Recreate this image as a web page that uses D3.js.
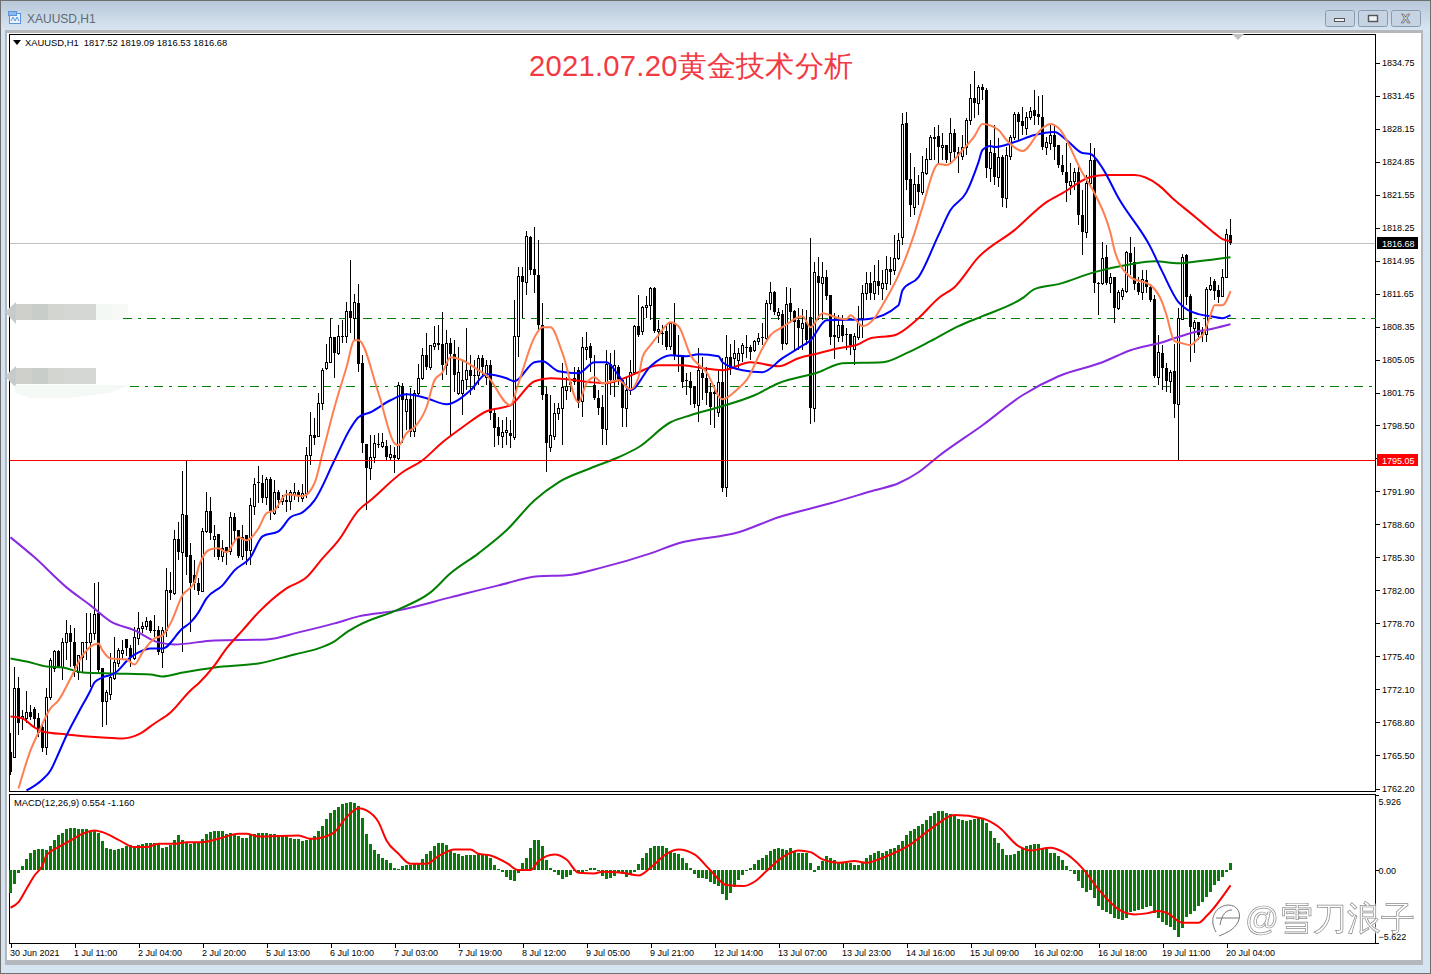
<!DOCTYPE html>
<html>
<head>
<meta charset="utf-8">
<style>
html, body { margin: 0; padding: 0; background: #fff; overflow: hidden; }
svg { display: block; }
text { font-family: "Liberation Sans", sans-serif; white-space: pre; }
</style>
</head>
<body>
<div id="chart"></div>
<script src="https://cdnjs.cloudflare.com/ajax/libs/d3/7.8.5/d3.min.js"></script>
<script>
//candles, one value per hourly bar
var opens = [
1765.8,1765.3,1772.2,1769.2,1769.2,1769.8,1770.1,1769.2,1768.3,1766.3,
1771.3,1774.2,1775.9,1774.3,1776.8,1777.7,1776.8,1773.8,1775.3,1776.8,
1776.8,1777.7,1779.7,1774.2,1770.9,1771.6,1773.2,1774.7,1775.7,1777.1,
1776.2,1775.2,1777.2,1778.2,1778.4,1778.9,1778.0,1778.0,1775.8,1778.0,
1782.0,1781.7,1787.1,1785.8,1789.5,1785.5,1783.5,1782.7,1781.9,1787.9,
1789.9,1787.1,1787.6,1785.4,1786.3,1785.9,1789.3,1788.0,1785.4,1787.5,
1786.0,1790.4,1792.8,1792.7,1791.3,1793.1,1789.7,1791.8,1790.9,1791.0,
1790.9,1791.5,1791.8,1791.2,1791.7,1795.5,1797.5,1797.4,1800.7,1804.2,
1804.8,1807.3,1805.7,1807.4,1807.4,1809.9,1809.2,1810.7,1804.7,1796.6,
1794.2,1795.3,1796.6,1796.4,1796.4,1795.3,1795.5,1795.2,1802.4,1799.9,
1801.1,1797.9,1801.7,1803.2,1805.5,1804.3,1806.4,1806.7,1806.6,1804.5,
1806.7,1805.6,1801.7,1801.7,1803.1,1804.0,1803.5,1803.5,1805.2,1803.3,
1804.5,1799.7,1798.3,1797.4,1797.8,1797.7,1797.3,1807.4,1813.4,1812.8,
1817.3,1814.1,1813.5,1808.5,1801.6,1796.3,1797.4,1799.7,1800.2,1802.0,
1802.8,1803.2,1804.0,1800.9,1806.1,1806.4,1802.5,1801.2,1800.3,1798.1,
1804.6,1803.0,1804.3,1803.0,1800.2,1802.0,1803.8,1808.4,1807.9,1810.3,
1810.5,1812.2,1807.9,1807.7,1807.9,1806.4,1808.7,1805.5,1805.3,1803.0,
1802.9,1802.4,1800.5,1803.7,1803.2,1801.8,1801.8,1799.8,1802.8,1792.3,
1805.3,1805.2,1805.0,1805.7,1806.3,1806.3,1806.0,1806.9,1807.3,1807.2,
1810.7,1811.8,1809.5,1809.6,1806.7,1810.7,1809.9,1809.0,1808.2,1808.8,
1809.3,1800.2,1813.4,1812.7,1813.3,1811.5,1807.5,1807.3,1808.5,1807.6,
1807.6,1806.1,1807.3,1809.2,1811.7,1812.7,1811.7,1812.9,1812.2,1812.7,
1814.1,1814.0,1815.2,1817.3,1828.7,1823.1,1820.3,1822.6,1821.8,1823.7,
1825.1,1827.3,1827.4,1826.3,1826.5,1825.8,1827.7,1825.8,1825.4,1826.3,
1829.0,1831.2,1830.7,1832.3,1832.0,1824.2,1825.7,1823.3,1825.3,1821.2,
1825.4,1827.3,1829.6,1828.9,1828.2,1829.3,1830.0,1829.6,1829.3,1826.3,
1826.7,1827.5,1826.5,1824.5,1823.8,1822.5,1822.9,1823.8,1819.5,1817.8,
1822.7,1825.0,1812.7,1812.7,1815.3,1812.7,1813.3,1810.2,1811.4,1811.9,
1815.7,1814.8,1812.7,1811.8,1813.0,1812.3,1811.1,1803.3,1805.7,1804.2,
1802.9,1803.9,1800.6,1809.1,1815.5,1811.4,1808.2,1808.8,1807.8,1807.6,
1812.1,1812.9,1812.0,1811.4,1813.3,1817.52];
var highs = [
1767.7,1774.3,1773.3,1770.0,1771.9,1770.5,1770.3,1769.7,1768.7,1772.2,
1775.2,1776.0,1776.0,1777.2,1779.0,1778.5,1778.2,1775.5,1776.8,1779.7,
1779.7,1782.7,1782.8,1774.2,1772.0,1775.7,1777.3,1776.2,1777.0,1777.1,
1776.5,1778.3,1779.8,1778.8,1779.3,1779.0,1779.5,1778.4,1778.3,1784.2,
1783.8,1788.0,1788.8,1793.9,1795.0,1786.7,1785.0,1783.2,1788.2,1791.8,
1791.3,1788.5,1787.6,1787.0,1786.3,1789.8,1789.7,1788.0,1788.5,1787.5,
1791.2,1793.2,1794.4,1793.5,1793.3,1793.3,1793.0,1792.0,1791.5,1792.0,
1792.0,1792.7,1792.0,1792.6,1796.3,1799.8,1799.2,1801.7,1804.2,1806.6,
1809.2,1807.3,1808.5,1809.0,1810.8,1815.0,1811.6,1812.6,1805.5,1796.6,
1797.5,1797.5,1797.7,1797.7,1797.0,1796.5,1796.3,1802.8,1802.7,1801.7,
1802.2,1802.0,1804.6,1806.2,1807.7,1806.5,1808.4,1808.5,1809.8,1808.0,
1807.2,1807.0,1806.3,1805.0,1808.2,1805.5,1805.0,1805.5,1805.5,1805.0,
1805.0,1800.0,1799.3,1799.0,1799.3,1799.0,1811.0,1814.3,1814.3,1817.9,
1817.4,1818.3,1817.0,1810.7,1802.3,1801.5,1800.7,1800.7,1804.7,1803.3,
1803.0,1804.3,1804.3,1807.3,1807.8,1806.7,1805.5,1802.0,1801.5,1806.0,
1805.7,1806.0,1804.5,1803.0,1803.3,1805.0,1808.5,1811.5,1810.4,1811.4,
1812.3,1812.3,1809.0,1808.5,1808.5,1808.8,1810.7,1807.5,1805.5,1803.7,
1803.8,1802.4,1806.2,1805.3,1804.3,1802.7,1802.5,1804.0,1805.2,1807.5,
1806.6,1807.0,1806.2,1806.7,1807.5,1806.5,1807.0,1807.7,1808.7,1811.0,
1812.8,1811.9,1810.2,1810.0,1812.3,1812.2,1810.0,1810.2,1810.1,1810.0,
1817.2,1814.8,1815.3,1814.8,1814.0,1811.5,1809.7,1809.5,1809.5,1808.2,
1807.6,1807.7,1810.4,1812.5,1813.8,1813.8,1814.5,1815.0,1814.0,1815.4,
1815.3,1817.5,1817.7,1829.7,1829.8,1825.7,1824.3,1823.5,1825.4,1826.2,
1827.5,1828.3,1828.5,1827.7,1826.5,1829.2,1828.1,1826.3,1827.5,1829.2,
1832.6,1833.9,1832.5,1832.6,1832.2,1827.0,1828.5,1827.2,1825.5,1826.3,
1827.5,1829.8,1829.8,1830.3,1829.8,1830.3,1832.0,1831.4,1831.5,1827.3,
1828.5,1828.5,1826.5,1825.5,1826.7,1824.7,1824.2,1824.3,1822.0,1823.5,
1826.7,1826.2,1812.8,1816.8,1816.5,1813.7,1813.3,1812.0,1812.2,1815.9,
1817.3,1816.3,1813.3,1814.0,1814.0,1812.5,1811.5,1807.5,1806.5,1804.7,
1804.0,1806.6,1810.2,1815.6,1815.6,1811.6,1809.0,1808.8,1808.3,1812.3,
1813.3,1813.1,1812.5,1814.1,1818.1,1819.09];
var lows = [
1763.5,1765.3,1767.5,1768.0,1768.7,1769.0,1768.3,1767.3,1765.8,1765.5,
1771.0,1773.8,1774.2,1773.0,1775.0,1774.3,1773.3,1773.0,1773.7,1775.0,
1772.3,1777.0,1773.7,1768.3,1768.5,1771.0,1773.0,1774.3,1775.0,1775.4,
1774.3,1775.0,1776.5,1777.7,1778.0,1777.7,1777.3,1775.5,1774.2,1777.3,
1781.0,1781.5,1785.0,1775.8,1783.5,1777.8,1782.0,1781.5,1781.8,1787.7,
1787.0,1785.3,1785.0,1784.8,1784.5,1785.5,1787.0,1785.2,1785.0,1784.5,
1784.5,1789.5,1790.7,1790.7,1790.5,1789.0,1789.5,1790.2,1790.5,1789.8,
1790.0,1791.0,1790.8,1790.8,1791.2,1794.5,1796.5,1797.3,1800.0,1804.0,
1804.7,1803.2,1805.5,1806.7,1806.7,1807.7,1807.0,1803.8,1795.7,1790.0,
1793.0,1794.7,1796.2,1796.2,1795.0,1795.0,1793.7,1795.0,1796.7,1798.0,
1797.3,1797.3,1801.5,1803.0,1804.0,1804.0,1806.0,1806.0,1803.0,1803.5,
1797.3,1801.8,1801.5,1799.5,1802.0,1801.5,1802.0,1802.5,1803.5,1802.5,
1799.0,1796.3,1796.5,1796.2,1796.5,1796.2,1797.0,1805.3,1809.2,1811.5,
1813.5,1811.7,1808.0,1801.0,1793.8,1795.8,1797.0,1799.0,1796.5,1801.0,
1801.8,1802.5,1800.2,1799.3,1805.0,1803.8,1801.0,1799.5,1796.5,1796.5,
1801.5,1801.3,1802.5,1798.3,1798.3,1801.5,1803.5,1807.3,1807.5,1809.2,
1809.0,1807.7,1806.7,1806.5,1806.0,1806.0,1805.0,1803.8,1802.2,1801.5,
1800.5,1800.2,1798.8,1801.0,1800.5,1798.5,1798.2,1799.3,1791.8,1791.3,
1803.5,1804.2,1804.2,1804.8,1805.2,1805.0,1805.8,1806.5,1806.5,1807.0,
1810.0,1809.5,1809.0,1806.0,1806.5,1808.7,1806.0,1806.0,1806.0,1806.5,
1798.6,1798.8,1809.0,1809.0,1811.0,1806.5,1805.1,1806.8,1806.8,1806.0,
1805.5,1804.5,1807.0,1807.2,1811.0,1811.0,1811.0,1811.5,1811.0,1812.0,
1812.5,1813.5,1815.0,1816.5,1822.0,1819.3,1819.5,1820.5,1821.5,1823.5,
1825.0,1825.0,1824.5,1825.0,1824.7,1824.7,1825.0,1823.7,1825.0,1825.5,
1828.5,1829.2,1829.5,1831.0,1823.2,1822.8,1822.5,1822.3,1820.3,1820.2,
1825.0,1827.0,1827.0,1827.5,1827.5,1829.0,1828.5,1828.5,1826.0,1825.5,
1826.0,1825.0,1824.2,1823.5,1820.8,1821.5,1822.0,1818.5,1815.5,1817.2,
1822.5,1811.7,1809.5,1812.5,1812.5,1811.7,1808.7,1810.0,1811.0,1811.7,
1813.5,1812.0,1811.5,1811.0,1811.7,1810.8,1803.2,1802.5,1802.0,1801.8,
1801.7,1799.2,1795.0,1809.0,1810.5,1804.8,1805.7,1807.0,1806.8,1806.8,
1811.9,1811.0,1810.7,1811.3,1813.2,1816.53];
var closes = [
1763.8,1772.2,1768.7,1769.4,1769.8,1769.3,1769.1,1767.7,1766.2,1771.3,
1775.0,1775.9,1774.3,1776.8,1777.7,1776.8,1774.4,1775.5,1776.8,1776.7,
1777.7,1779.6,1774.0,1770.8,1771.8,1773.3,1774.8,1776.0,1776.0,1776.2,
1775.2,1777.3,1778.2,1778.4,1778.9,1777.9,1777.9,1775.8,1778.0,1782.0,
1781.7,1787.1,1785.8,1789.6,1785.3,1782.7,1782.7,1781.9,1787.9,1789.9,
1787.7,1787.4,1785.3,1786.2,1785.8,1789.3,1787.9,1785.4,1787.3,1785.9,
1790.5,1792.6,1792.7,1791.2,1793.1,1789.8,1791.8,1791.0,1791.2,1790.8,
1791.8,1791.8,1791.4,1791.7,1795.5,1797.5,1797.2,1800.7,1804.0,1804.8,
1807.3,1805.7,1807.4,1807.3,1809.9,1809.2,1810.8,1804.6,1796.7,1794.2,
1795.3,1796.7,1796.5,1796.8,1795.3,1795.6,1795.2,1802.5,1801.0,1801.1,
1797.8,1801.7,1803.2,1805.5,1804.3,1806.5,1806.7,1806.5,1804.5,1806.7,
1805.6,1803.5,1803.8,1803.0,1804.0,1803.4,1803.4,1805.2,1804.3,1804.5,
1799.7,1798.2,1797.4,1797.8,1798.0,1797.4,1807.4,1813.4,1812.8,1817.4,
1814.0,1813.5,1808.5,1801.5,1796.7,1797.5,1799.7,1800.2,1802.3,1802.4,
1802.5,1802.8,1800.7,1806.3,1806.3,1805.2,1801.2,1800.2,1798.1,1804.6,
1803.0,1804.5,1803.1,1800.2,1802.0,1803.8,1808.4,1807.5,1810.3,1810.5,
1812.2,1807.9,1808.1,1807.6,1806.3,1808.7,1805.5,1805.3,1802.8,1802.9,
1802.2,1800.6,1804.0,1803.2,1801.7,1800.3,1801.6,1802.8,1792.2,1805.3,
1804.2,1805.7,1805.7,1806.5,1806.2,1805.8,1806.9,1807.2,1807.2,1810.7,
1811.8,1809.8,1809.8,1806.6,1810.6,1809.8,1808.8,1808.2,1808.7,1807.0,
1800.2,1813.8,1812.7,1813.3,1811.4,1807.3,1807.3,1808.5,1807.4,1807.5,
1806.5,1807.4,1808.7,1811.7,1812.7,1811.7,1812.9,1812.4,1812.7,1814.1,
1813.8,1815.2,1817.0,1828.6,1823.0,1820.5,1822.6,1821.8,1823.8,1825.1,
1827.3,1827.1,1826.3,1826.5,1825.0,1827.7,1825.8,1825.5,1826.3,1829.0,
1831.2,1830.7,1832.3,1832.0,1824.2,1825.8,1823.3,1825.3,1821.2,1825.5,
1827.3,1829.6,1828.8,1828.4,1829.3,1829.9,1829.4,1829.3,1826.3,1826.8,
1827.5,1826.3,1824.5,1823.8,1822.7,1822.9,1823.8,1819.5,1817.8,1822.7,
1825.0,1812.7,1812.6,1815.2,1812.7,1813.3,1810.2,1811.8,1812.0,1815.8,
1814.8,1812.6,1811.8,1813.1,1812.3,1811.0,1803.4,1805.8,1804.2,1802.9,
1803.8,1800.6,1809.2,1815.3,1811.3,1808.3,1808.8,1807.5,1807.5,1812.1,
1812.5,1811.9,1811.3,1813.3,1817.6,1816.68];

//moving averages, read at the bars where the line bends
var coralBars = [2,5,7,10,12,15,18,22,23,25,29,31,33,36,38,40,43,46,47,50,52,54,57,59,62,64,66,69,73,76,78,81,84,86,87,92,96,97,99,101,104,106,108,110,113,117,119,125,127,131,133,135,138,142,144,146,148,152,155,157,158,160,162,165,167,170,174,178,182,184,188,190,193,198,200,203,207,209,210,213,216,218,222,226,228,232,234,238,241,243,247,249,253,258,260,262,268,271,275,276,280,285,288,289,291,292,295,297,298,300,301,303,305];
var coralVals = [1762.2,1766.0,1767.8,1770.2,1771.0,1773.2,1775.5,1776.7,1776.0,1775.2,1775.1,1774.6,1775.8,1777.2,1777.5,1778.7,1781.5,1782.8,1784.3,1786.1,1786.2,1785.8,1787.3,1787.0,1788.2,1789.7,1790.0,1791.6,1791.4,1792.7,1795.7,1800.3,1804.3,1807.0,1807.0,1801.7,1796.7,1796.5,1797.7,1798.3,1800.3,1803.0,1803.8,1805.3,1805.0,1804.0,1803.5,1800.5,1802.7,1807.3,1808.3,1808.3,1805.7,1800.8,1802.7,1803.3,1802.7,1803.0,1802.1,1803.3,1805.3,1806.5,1807.5,1808.8,1808.4,1805.5,1803.8,1801.1,1802.2,1803.0,1806.2,1807.5,1808.3,1809.4,1808.3,1809.7,1809.2,1809.1,1809.5,1808.4,1809.2,1810.5,1813.5,1817.7,1820.3,1824.6,1824.5,1826.0,1827.4,1828.6,1828.0,1827.0,1825.9,1828.2,1828.6,1828.2,1823.7,1821.7,1817.7,1816.0,1813.3,1812.5,1810.7,1809.5,1806.9,1806.8,1806.5,1807.2,1807.5,1809.5,1810.5,1810.5,1811.9];

var blueBars = [4,8,10,12,14,17,20,21,23,26,30,32,35,38,43,45,47,49,53,56,60,63,67,70,73,76,81,85,87,90,95,99,104,109,115,119,124,126,131,133,137,142,146,149,152,155,160,165,169,172,177,178,183,188,193,197,200,204,214,222,223,227,232,235,239,242,243,245,246,251,256,261,264,268,270,273,277,285,288,292,297,300,303,305];
var blueVals = [1762.0,1763.1,1764.0,1765.7,1767.5,1769.8,1772.0,1772.8,1773.3,1773.7,1775.3,1775.8,1776.2,1776.2,1778.2,1778.8,1779.8,1781.2,1782.5,1784.0,1785.3,1787.4,1787.9,1789.3,1789.8,1791.0,1795.0,1798.2,1799.3,1799.8,1801.0,1801.6,1801.2,1800.6,1802.0,1803.6,1803.2,1802.9,1804.8,1804.9,1803.9,1803.7,1804.8,1804.8,1803.5,1802.0,1804.4,1805.5,1805.4,1805.6,1805.4,1804.8,1804.0,1803.8,1805.2,1806.2,1807.0,1809.0,1809.1,1810.5,1812.0,1813.3,1817.5,1820.0,1821.8,1824.8,1826.0,1826.4,1826.3,1826.8,1827.5,1827.8,1827.0,1825.7,1825.6,1824.2,1821.2,1816.3,1813.8,1810.8,1809.6,1809.4,1809.2,1809.5];

var redBars = [0,3,6,8,14,23,28,32,36,40,45,47,51,54,58,62,69,74,78,82,87,90,98,103,108,113,119,125,131,135,139,145,149,152,157,162,168,173,178,185,192,197,202,207,212,215,221,227,232,236,242,251,259,263,270,274,281,287,291,295,298,301,303,305];
var redVals = [1769.4,1769.2,1768.3,1767.9,1767.6,1767.3,1767.2,1767.6,1768.7,1769.8,1772.0,1772.7,1774.5,1776.2,1778.0,1779.8,1782.2,1783.3,1785.2,1787.0,1790.0,1791.0,1793.8,1795.0,1796.8,1798.3,1799.9,1800.5,1802.9,1803.2,1803.1,1802.8,1802.7,1803.0,1803.8,1804.5,1804.5,1804.2,1804.0,1804.8,1804.4,1805.2,1805.7,1806.2,1806.6,1807.2,1807.5,1809.2,1811.2,1812.3,1815.3,1818.0,1820.8,1821.7,1823.3,1823.5,1823.5,1822.5,1821.0,1819.7,1818.7,1817.7,1817.1,1816.9];

var greenBars = [0,4,9,13,18,26,35,38,42,51,62,71,77,81,84,87,97,105,110,117,124,131,137,145,152,157,165,170,177,186,192,202,208,218,224,230,237,243,253,256,262,271,280,286,292,297,305];
var greenVals = [1775.2,1774.9,1774.4,1774.3,1773.8,1773.7,1773.6,1773.4,1773.7,1774.3,1774.7,1775.6,1776.2,1776.9,1777.8,1778.5,1780.1,1781.8,1783.7,1785.7,1788.0,1791.0,1792.8,1794.2,1795.3,1796.3,1798.8,1799.5,1800.3,1801.5,1802.7,1803.8,1804.7,1804.8,1805.7,1806.9,1808.4,1809.4,1811.2,1812.1,1812.6,1813.8,1814.6,1814.9,1814.7,1814.9,1815.3];

var purpleBars = [0,6,14,20,25,31,37,41,51,64,72,81,87,97,110,122,132,139,148,160,167,182,192,205,216,222,227,232,243,253,262,273,280,288,295,301,305];
var purpleVals = [1787.3,1785.3,1782.3,1780.5,1778.9,1778.0,1776.8,1776.6,1777.0,1777.1,1777.8,1778.7,1779.4,1780.0,1781.3,1782.5,1783.4,1783.5,1784.3,1785.7,1786.7,1787.8,1789.3,1790.7,1792.0,1792.7,1793.8,1795.4,1798.5,1801.5,1803.4,1804.8,1806.0,1806.8,1807.7,1808.2,1808.6];

//MACD pane
var macdHist = [
-1.77,-1.09,-0.2,0.36,0.86,1.38,1.61,1.69,1.69,1.61,
1.87,2.34,2.73,2.91,3.2,3.35,3.35,3.2,3.2,3.2,
3.07,3.12,2.91,2.29,1.79,1.64,1.58,1.64,1.79,1.87,
1.95,1.87,1.95,2.05,2.18,2.18,2.18,2.03,1.77,1.82,
1.98,2.34,2.73,2.34,2.18,2.05,2.13,2.16,2.47,2.86,
3.02,3.07,3.07,3.07,2.86,2.91,2.83,2.65,2.55,2.5,
2.73,2.86,2.91,2.96,2.91,2.83,2.81,2.78,2.76,2.65,
2.5,2.47,2.42,2.26,2.34,2.52,2.68,3.07,3.43,3.98,
4.5,4.68,4.94,5.15,5.28,5.36,5.28,5.02,4.08,2.86,
2.08,1.56,1.3,0.96,0.78,0.6,0.23,0.08,0.31,0.39,
0.39,0.47,0.62,0.86,1.25,1.48,1.87,2.18,2.18,1.95,
1.48,1.33,1.25,1.09,1.17,1.17,1.17,1.25,1.25,1.17,
0.94,0.39,0.08,-0.16,-0.55,-0.78,-0.86,-0.23,0.62,1.01,
1.79,2.34,2.34,1.87,0.78,0.23,-0.16,-0.39,-0.7,-0.55,
-0.39,-0.08,-0.16,-0.23,-0.08,0.23,0.23,-0.08,-0.47,-0.7,
-0.62,-0.47,-0.16,-0.31,-0.55,-0.31,-0.16,0.47,0.94,1.4,
1.79,1.87,1.87,1.87,1.79,1.48,1.4,1.25,0.94,0.62,
0.23,-0.31,-0.62,-0.62,-0.7,-0.94,-1.09,-1.25,-1.87,-2.34,
-1.79,-1.33,-0.78,-0.39,0,0.16,0.47,0.78,1.01,1.17,
1.48,1.64,1.79,1.64,1.56,1.72,1.48,1.33,1.33,1.4,
0.55,-0.16,0.31,0.7,1.09,1.01,0.78,0.62,0.62,0.62,
0.62,0.39,0.39,0.62,0.94,1.17,1.33,1.48,1.4,1.48,
1.64,1.79,1.95,2.26,2.73,3.04,3.27,3.43,3.59,3.9,
4.21,4.52,4.6,4.6,4.52,4.37,4.21,3.98,3.9,3.82,
3.9,3.98,4.13,4.06,3.67,3.04,2.57,2.11,1.64,1.17,
1.17,1.25,1.48,1.72,1.87,1.95,2.03,2.03,1.79,1.64,
1.4,1.33,1.09,0.78,0.31,-0.05,-0.31,-0.86,-1.4,-1.72,
-1.56,-2.18,-2.81,-3.12,-3.27,-3.43,-3.74,-3.82,-3.9,-3.74,
-3.27,-3.2,-3.12,-3.04,-2.89,-2.81,-3.35,-3.74,-4.06,-4.29,
-4.45,-4.68,-5.23,-4.52,-3.67,-3.43,-3.2,-2.81,-2.5,-2.11,
-1.72,-1.17,-0.86,-0.55,-0.16,0.55];
var signalBars = [0,2,4,6,8,9,12,15,18,21,23,27,31,34,37,41,44,48,52,57,59,62,72,75,77,81,84,87,89,92,94,97,100,104,107,111,115,117,120,124,127,130,132,136,139,142,146,148,153,157,160,164,167,171,175,179,183,186,189,193,197,200,203,207,211,214,218,225,231,236,243,247,252,255,260,263,268,272,277,281,284,287,289,293,297,299,305];
var signalVals = [-2.91,-2.47,-1.43,-0.39,0.39,1.17,1.82,2.34,2.86,3.12,2.99,2.39,1.82,1.82,2.08,2.08,2.21,2.21,2.47,2.86,2.86,2.65,2.73,2.47,2.52,2.99,4.16,4.86,4.68,3.77,2.34,1.3,0.52,0.52,1.12,1.64,1.64,1.3,1.17,0.6,0.03,0.03,0.73,1.25,0.86,-0.18,-0.23,-0.1,-0.18,-0.39,0.21,1.3,1.64,1.25,0,-1.14,-1.22,-0.88,-0.05,1.04,1.56,1.43,0.86,0.6,0.73,0.6,0.99,2.03,3.46,4.32,4.06,3.41,1.9,1.56,1.77,1.46,0.16,-1.48,-3.04,-3.43,-3.35,-3.17,-3.3,-4.08,-4.08,-3.56,-1.16];

//axes and levels
var priceTicks = [1834.75,1831.45,1828.15,1824.85,1821.55,1818.25,1814.95,1811.65,1808.35,1805.05,1801.75,1798.50,1795.20,1791.90,1788.60,1785.30,1782.00,1778.70,1775.40,1772.10,1768.80,1765.50,1762.20];
var macdTicks = [5.926,0,-5.622];
var timeBars = [0,16,32,48,64,80,96,112,128,144,160,176,192,208,224,240,256,272,288,304];
var timeLabels = ["30 Jun 2021","1 Jul 11:00","2 Jul 04:00","2 Jul 20:00","5 Jul 13:00","6 Jul 10:00","7 Jul 03:00","7 Jul 19:00","8 Jul 12:00","9 Jul 05:00","9 Jul 21:00","12 Jul 14:00","13 Jul 07:00","13 Jul 23:00","14 Jul 16:00","15 Jul 09:00","16 Jul 02:00","16 Jul 18:00","19 Jul 11:00","20 Jul 04:00"];
var dashLevels = [1809.14,1802.35];
var supportLevel = 1795.05;
var lastPrice = 1816.68;

var width = 1431;
var height = 974;
var paneLeft = 9.5;
var paneRight = 1375.5;
var mainTop = 34.5;
var mainBottom = 791.5;
var macdTop = 794.5;
var macdBottom = 943.5;

var svg = d3.select("#chart")
	.append("svg")
	.attr("width", width)
	.attr("height", height);

var x = d3.scaleLinear().domain([0, 305]).range([10.5, 1230.5]);
var y = d3.scaleLinear().domain([1762.2, 1834.75]).range([788.5, 62.5]);
var yMacd = d3.scaleLinear().domain([-5.622, 5.926]).range([942.5, 794.5]);

//window frame
var defs = svg.append("defs");
var grad = defs.append("linearGradient").attr("id", "titlebar").attr("x1", 0).attr("x2", 0).attr("y1", 0).attr("y2", 1);
grad.append("stop").attr("offset", "0%").attr("stop-color", "#b8c8d9");
grad.append("stop").attr("offset", "100%").attr("stop-color", "#dae6f2");
defs.append("clipPath").attr("id", "mainclip").append("rect")
	.attr("x", paneLeft).attr("y", mainTop).attr("width", paneRight - paneLeft).attr("height", mainBottom - mainTop);

svg.append("rect").attr("width", width).attr("height", height).attr("fill", "#d6e3f0");
svg.append("rect").attr("x", 0.5).attr("y", 0.5).attr("width", width - 1).attr("height", height - 1).attr("fill", "none").attr("stroke", "#6e6e6e");
svg.append("rect").attr("x", 1).attr("y", 1).attr("width", width - 2).attr("height", 30).attr("fill", "url(#titlebar)");
svg.append("rect").attr("x", 5).attr("y", 30).attr("width", 1418).attr("height", 935).attr("fill", "#b4b8bc");
svg.append("rect").attr("x", 7).attr("y", 33).attr("width", 1414).attr("height", 927).attr("fill", "#fff");

//title bar icon and text
var icon = svg.append("g").attr("fill", "none").attr("stroke", "#5b94d8");
icon.append("rect").attr("x", 9.5).attr("y", 13.5).attr("width", 11).attr("height", 10).attr("fill", "#eaf2fb");
icon.append("rect").attr("x", 8.5).attr("y", 11.5).attr("width", 8).attr("height", 4).attr("fill", "#8db8ea");
icon.append("path").attr("d", "M11 21l2-4 2 4 2-4 2 4");
svg.append("text").attr("x", 27).attr("y", 23).attr("font-size", 12).attr("fill", "#5e6a74").text("XAUUSD,H1");

//window buttons
var buttonX = [1325, 1358, 1391];
svg.selectAll(".winbtn").data(buttonX).enter().append("rect")
	.attr("class", "winbtn")
	.attr("x", function(d) { return d + 0.5; })
	.attr("y", 10.5)
	.attr("width", 29)
	.attr("height", 16)
	.attr("rx", 2)
	.attr("fill", "#c5d3e2")
	.attr("stroke", "#8a9bb0");
svg.append("rect").attr("x", 1334.5).attr("y", 18.5).attr("width", 10).attr("height", 3).attr("fill", "#eef2f6").attr("stroke", "#555");
svg.append("rect").attr("x", 1368.5).attr("y", 15.5).attr("width", 9).attr("height", 6).attr("fill", "#eef2f6").attr("stroke", "#555").attr("stroke-width", 1.4);
svg.append("text").attr("x", 1405.5).attr("y", 23).attr("font-size", 13).attr("font-weight", "bold").attr("text-anchor", "middle").attr("fill", "#eef2f6").attr("stroke", "#555").attr("stroke-width", 0.6).text("X");

//panes
var frame = svg.append("g").attr("fill", "#fff").attr("stroke", "#000").attr("shape-rendering", "crispEdges");
frame.append("rect").attr("x", paneLeft).attr("y", mainTop).attr("width", paneRight - paneLeft).attr("height", mainBottom - mainTop);
frame.append("rect").attr("x", paneLeft).attr("y", macdTop).attr("width", paneRight - paneLeft).attr("height", macdBottom - macdTop);

//the two smudged labels on the left
var blurColours = ["#cfd0cc", "#c9cdc9", "#d3d6d0", "#d3d6d2", "#d3d6d2", "#f4f8f4", "#f6f9f6"];
var blurRows = [304, 368];
blurRows.forEach(function(rowTop) {
	svg.selectAll(null).data(blurColours).enter().append("rect")
		.attr("x", function(d, i) { return 16 + i * 16; })
		.attr("y", rowTop)
		.attr("width", 16)
		.attr("height", 16)
		.attr("fill", function(d, i) { return rowTop == 368 && i > 4 ? "#fff" : d; });
	svg.append("path").attr("fill", "#c6cbcc")
		.attr("d", "M5 " + (rowTop + 8) + "L16 " + (rowTop - 2) + "V" + (rowTop + 20) + "Z");
});
svg.append("path").attr("fill", "#f5f9f6").attr("d", "M15 385H130L110 393L70 398H30L15 393Z");

//chart title
svg.append("text")
	.attr("x", 529)
	.attr("y", 76)
	.attr("font-family", "'Noto Sans CJK SC'")
	.attr("font-size", 29.2)
	.attr("textLength", 324)
	.attr("fill", "#f23a43")
	.text("2021.07.20黄金技术分析");

//price lines behind the candles
svg.append("rect").attr("x", 10).attr("width", 1365).attr("y", Math.floor(y(lastPrice))).attr("height", 1)
	.attr("fill", "#c0c0c0");

svg.selectAll(".level").data(dashLevels).enter().append("line")
	.attr("class", "level")
	.attr("x1", function(d, i) { return i == 0 ? 123 : 130; })
	.attr("x2", paneRight)
	.attr("y1", function(d) { return Math.floor(y(d)) + 0.5; })
	.attr("y2", function(d) { return Math.floor(y(d)) + 0.5; })
	.attr("stroke", "#008000")
	.attr("stroke-dasharray", "9,6,3,6")
	.attr("shape-rendering", "crispEdges");

//candles
var barIndex = d3.range(opens.length);
var candles = svg.append("g").attr("shape-rendering", "crispEdges");

candles.selectAll(".wick").data(barIndex).enter().append("line")
	.attr("class", "wick")
	.attr("x1", function(i) { return x(i); })
	.attr("x2", function(i) { return x(i); })
	.attr("y1", function(i) { return y(highs[i]); })
	.attr("y2", function(i) { return y(lows[i]); })
	.attr("stroke", "#000");

function bodyTop(i) { return Math.round(y(Math.max(opens[i], closes[i]))); }
function bodyHeight(i) { return Math.max(Math.round(y(Math.min(opens[i], closes[i]))) - bodyTop(i), 1); }

candles.selectAll(".up").data(barIndex.filter(function(i) { return closes[i] >= opens[i]; })).enter().append("rect")
	.attr("class", "up")
	.attr("x", function(i) { return x(i) - 1; })
	.attr("y", function(i) { return bodyTop(i) + 0.5; })
	.attr("width", 2)
	.attr("height", bodyHeight)
	.attr("fill", "#fff")
	.attr("stroke", "#000");

candles.selectAll(".down").data(barIndex.filter(function(i) { return closes[i] < opens[i]; })).enter().append("rect")
	.attr("class", "down")
	.attr("x", function(i) { return x(i) - 1.5; })
	.attr("y", bodyTop)
	.attr("width", 3)
	.attr("height", bodyHeight)
	.attr("fill", "#000");

//moving averages
var maLine = d3.line()
	.x(function(d) { return x(d[0]); })
	.y(function(d) { return y(d[1]); })
	.curve(d3.curveMonotoneX);

var maSeries = [
	{ bars: purpleBars, vals: purpleVals, colour: "#8a2be2" },
	{ bars: greenBars, vals: greenVals, colour: "#008000" },
	{ bars: redBars, vals: redVals, colour: "#ff0000" },
	{ bars: blueBars, vals: blueVals, colour: "#0000ff" },
	{ bars: coralBars, vals: coralVals, colour: "#ff7f50" }
];
svg.append("g").attr("clip-path", "url(#mainclip)").selectAll("path").data(maSeries).enter().append("path")
	.attr("d", function(s) { return maLine(d3.zip(s.bars, s.vals)); })
	.attr("fill", "none")
	.attr("stroke", function(s) { return s.colour; })
	.attr("stroke-width", 2);

//support line on top of everything in the main pane
svg.append("rect").attr("x", 10).attr("width", 1365).attr("y", Math.floor(y(supportLevel)) + 1).attr("height", 1)
	.attr("fill", "#ff0000");

//legend
svg.append("path").attr("d", "M13 40h8l-4 5z").attr("fill", "#000");
svg.append("text").attr("x", 25).attr("y", 45.5).attr("font-size", 9.4).attr("fill", "#000")
	.text("XAUUSD,H1  1817.52 1819.09 1816.53 1816.68");
svg.append("path").attr("d", "M1232 34h12l-6 6z").attr("fill", "#c0c0c0");

//price axis
var priceAxis = d3.axisRight(y)
	.tickValues(priceTicks)
	.tickFormat(d3.format(".2f"))
	.tickSize(4)
	.tickPadding(2.5);
svg.append("g").attr("class", "priceaxis").attr("transform", "translate(" + paneRight + ",0)").call(priceAxis)
	.call(function(g) { g.select(".domain").remove(); })
	.call(function(g) { g.selectAll("line").attr("shape-rendering", "crispEdges"); })
	.call(function(g) { g.selectAll("text").attr("font-family", "Liberation Sans").attr("font-size", 9).attr("fill", "#000"); });

//the price tags on the axis
var tags = [
	{ value: lastPrice, fill: "#000" },
	{ value: supportLevel, fill: "#ff0000" }
];
tags.forEach(function(t) {
	svg.append("rect").attr("x", 1377).attr("y", Math.round(y(t.value)) - 6).attr("width", 41).attr("height", 12).attr("fill", t.fill);
	svg.append("text").attr("x", 1382).attr("y", Math.round(y(t.value)) + 3.5).attr("font-size", 9).attr("fill", "#fff").text(t.value.toFixed(2));
});

//MACD histogram and signal
svg.append("g").attr("shape-rendering", "crispEdges").selectAll("rect").data(macdHist).enter().append("rect")
	.attr("x", function(d, i) { return x(i) - 1.5; })
	.attr("y", function(d) { return Math.round(yMacd(Math.max(d, 0))); })
	.attr("width", 3)
	.attr("height", function(d) { return Math.max(Math.abs(Math.round(yMacd(d)) - Math.round(yMacd(0))), 1); })
	.attr("fill", "#0a7a0a");

var signalLine = d3.line()
	.x(function(d) { return x(d[0]); })
	.y(function(d) { return yMacd(d[1]); })
	.curve(d3.curveMonotoneX);
svg.append("path")
	.attr("d", signalLine(d3.zip(signalBars, signalVals)))
	.attr("fill", "none")
	.attr("stroke", "#ff0000")
	.attr("stroke-width", 2);

svg.append("text").attr("x", 14).attr("y", 805.5).attr("font-size", 9.4).attr("fill", "#000").text("MACD(12,26,9) 0.554 -1.160");

//watermark goes under the axis labels
var markPath = "M1216 932C1208 918 1216 906 1228 905C1238 905 1242 914 1238 922C1234 930 1226 933 1219 936M1220 925C1222 914 1226 910 1232 910M1216 918H1239";
svg.append("path").attr("d", markPath).attr("fill", "none").attr("stroke", "#fff").attr("stroke-width", 4);
svg.append("path").attr("d", markPath).attr("fill", "none").attr("stroke", "#777").attr("stroke-width", 1);
svg.append("text")
	.attr("x", 1245)
	.attr("y", 930)
	.attr("font-family", "'Noto Sans CJK SC'")
	.attr("font-size", 33.5)
	.attr("fill", "#fff")
	.attr("stroke", "#8c8c8c")
	.attr("stroke-width", 0.7)
	.style("filter", "drop-shadow(0 0 1px #fff) drop-shadow(0 0 1px #fff)")
	.text("@雪刀浪子");

var macdAxis = d3.axisRight(yMacd)
	.tickValues(macdTicks)
	.tickFormat(function(d) { return d == 0 ? "0.00" : d3.format(".3f")(d); })
	.tickSize(3)
	.tickPadding(0);
svg.append("g").attr("transform", "translate(" + paneRight + ",0)").call(macdAxis)
	.call(function(g) { g.select(".domain").remove(); })
	.call(function(g) { g.selectAll("line").attr("shape-rendering", "crispEdges"); })
	.call(function(g) {
		g.selectAll("text")
			.attr("font-family", "Liberation Sans")
			.attr("font-size", 9)
			.attr("fill", "#000")
			.attr("y", function(d) { return d > 0 ? 7 : (d < 0 ? -6 : 0); });
	});

//time axis
var timeAxis = d3.axisBottom(x)
	.tickValues(timeBars)
	.tickFormat(function(d, i) { return timeLabels[i]; })
	.tickSize(4)
	.tickPadding(2);
svg.append("g").attr("transform", "translate(0," + macdBottom + ")").call(timeAxis)
	.call(function(g) { g.select(".domain").remove(); })
	.call(function(g) { g.selectAll("line").attr("shape-rendering", "crispEdges"); })
	.call(function(g) {
		g.selectAll("text")
			.attr("font-family", "Liberation Sans")
			.attr("font-size", 9)
			.attr("fill", "#000")
			.attr("text-anchor", "start")
			.attr("x", -1);
	});
</script>
</body>
</html>
